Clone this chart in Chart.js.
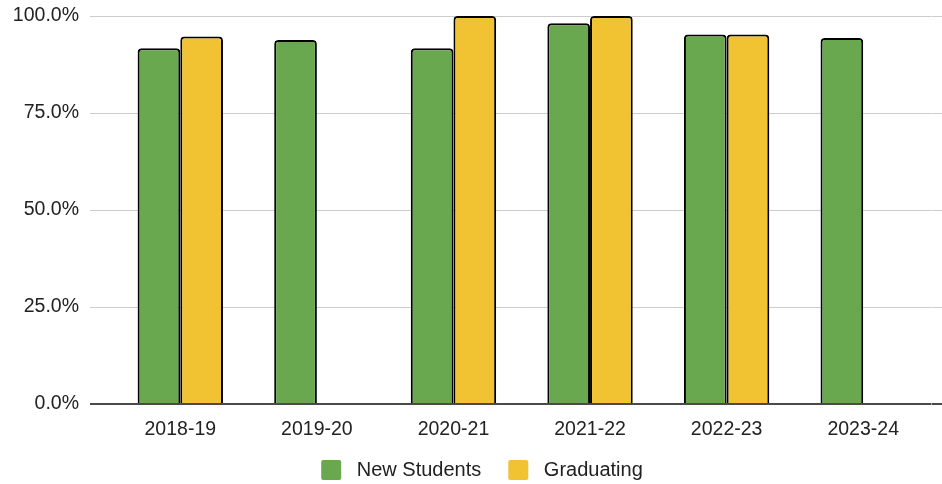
<!doctype html>
<html lang="en">
<head>
    <meta charset="UTF-8">
    <meta name="viewport" content="width=device-width, initial-scale=1.0">
    <title>New Students vs Graduating</title>
    <script src="https://cdn.jsdelivr.net/npm/chart.js"></script>
    <style>
        html, body { margin: 0; padding: 0; background: #fff; overflow: hidden; }
        #wrap { width: 942px; height: 493px; position: relative; }
    </style>
</head>
<body>
    <div id="wrap">
        <canvas id="rateChart"></canvas>
    </div>
    <script>
        const years = ['2018-19', '2019-20', '2020-21', '2021-22', '2022-23', '2023-24'];
        const newStudents = [91.7, 93.8, 91.7, 98.1, 95.2, 94.3];
        const graduating = [94.7, null, 100, 100, 95.2, null];
        const yTicks = [0, 25, 50, 75, 100];

        const green = '#6aa84f';
        const gold = '#f1c232';

        Chart.defaults.font.family = '"Liberation Sans", Arial, sans-serif';
        Chart.defaults.font.size = 19.5;
        Chart.defaults.color = '#222';

        // zero line is dark, the rest light grey
        const lineColor = ctx => (ctx.tick && ctx.tick.value === 0) ? '#4a4a4a' : '#cccccc';
        const lineWidth = ctx => (ctx.tick && ctx.tick.value === 0) ? 2 : 1;

        // no extra room above the plot for the top tick label
        const noPad = scale => { scale.paddingTop = 0; scale.paddingBottom = 0; };

        // legend sits a bit right of canvas centre in the original
        const legendNudge = {
            id: 'legendNudge',
            afterLayout(chart) {
                const lg = chart.legend;
                lg.left += 11; lg.right += 11;
                lg.top -= 3; lg.bottom -= 3;
            }
        };

        const ctx = document.getElementById('rateChart').getContext('2d');
        const chart = new Chart(ctx, {
            type: 'bar',
            data: {
                labels: years,
                datasets: [{
                    label: 'New Students',
                    data: newStudents,
                    backgroundColor: green,
                    borderColor: '#000',
                    borderWidth: 2,
                    borderRadius: 4,
                    borderSkipped: 'bottom',
                    clip: 4
                }, {
                    label: 'Graduating',
                    data: graduating,
                    backgroundColor: gold,
                    borderColor: '#000',
                    borderWidth: 2,
                    borderRadius: 4,
                    borderSkipped: 'bottom',
                    clip: 4
                }]
            },
            options: {
                responsive: true,
                maintainAspectRatio: false,
                animation: false,
                layout: { padding: { top: 16, left: 0, right: 0, bottom: 0 } },
                datasets: {
                    bar: { categoryPercentage: 0.625, barPercentage: 1 }
                },
                scales: {
                    x: {
                        grid: { display: false },
                        border: { display: false },
                        ticks: { padding: 8, font: { lineHeight: 1 } },
                        afterFit: scale => { scale.height = 32; }
                    },
                    y: {
                        min: 0,
                        max: 100,
                        afterBuildTicks: scale => { scale.ticks = yTicks.map(v => ({ value: v })); },
                        ticks: {
                            padding: 11,
                            callback: v => v.toFixed(1) + '%'
                        },
                        grid: {
                            color: lineColor,
                            lineWidth: lineWidth,
                            tickColor: lineColor,
                            tickWidth: lineWidth,
                            tickLength: 22
                        },
                        border: { display: false },
                        afterFit: scale => { scale.width = 112; noPad(scale); }
                    },
                    yRight: {
                        position: 'right',
                        min: 0,
                        max: 100,
                        afterBuildTicks: scale => { scale.ticks = yTicks.map(v => ({ value: v })); },
                        ticks: { display: false },
                        grid: {
                            drawOnChartArea: false,
                            color: lineColor,
                            lineWidth: lineWidth,
                            tickColor: lineColor,
                            tickWidth: lineWidth,
                            tickLength: 11
                        },
                        border: { display: false },
                        afterFit: scale => { scale.width = 10.5; noPad(scale); }
                    }
                },
                plugins: {
                    tooltip: { enabled: false },
                    legend: {
                        position: 'bottom',
                        labels: {
                            boxWidth: 20,
                            boxHeight: 20,
                            padding: 27,
                            useBorderRadius: true,
                            borderRadius: 2,
                            color: '#222',
                            font: { size: 20 },
                            generateLabels: chart => {
                                const items = Chart.defaults.plugins.legend.labels.generateLabels(chart);
                                return items.map(item => Object.assign(item, {
                                    text: ' ' + item.text,
                                    lineWidth: 0,
                                    strokeStyle: 'rgba(0,0,0,0)'
                                }));
                            }
                        }
                    }
                }
            },
            plugins: [legendNudge]
        });
    </script>
</body>
</html>
